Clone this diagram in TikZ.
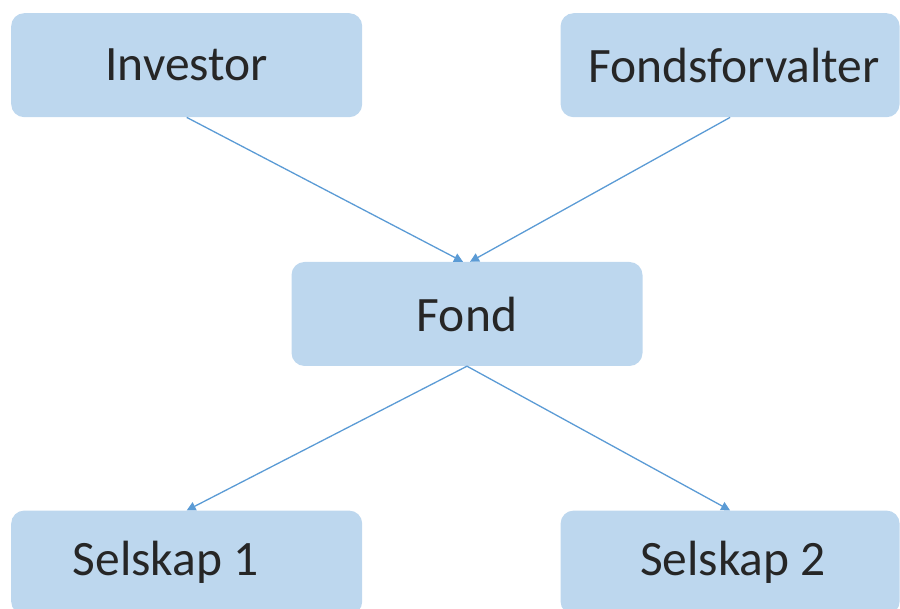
\documentclass[tikz,border=0pt]{standalone}
\usepackage{fontspec}
\setmainfont{Carlito}
\usetikzlibrary{positioning, arrows.meta}
\usepackage{xcolor}
\definecolor{boxblue}{HTML}{BDD7EE}
\definecolor{linkblue}{HTML}{5B9BD5}
\definecolor{textgrey}{HTML}{262626}

\begin{document}
\begin{tikzpicture}[x=1pt, y=1pt,
        b/.style={fill=boxblue, rounded corners=13pt, text=textgrey, font=\fontsize{49.5}{58}\selectfont, minimum width=351pt, minimum height=104pt, inner sep=0pt},
        l/.style={-{Triangle[length=9pt,width=9pt]}, line width=1.3pt, color=linkblue}]
      \useasboundingbox (0,0) rectangle (900,609);
      \node[b, anchor=north west] (inv) at (11,596) {Investor};
      \node[b, right=198pt of inv, minimum width=339pt] (ff) {\hspace*{8pt}Fondsforvalter};
      \node[b] (f) at (467,295) {Fond};
      \node[b, below=393pt of inv] (s1) {Selskap 1\hspace*{42pt}};
      \node[b, below=393pt of ff, minimum width=339pt] (s2) {\hspace*{6pt}Selskap 2};
      \draw[l] (inv.south)--([xshift=-4pt]f.north);
      \draw[l] (ff.south)--([xshift=3pt]f.north);
      \draw[l] (f.south)--(s1.north);
      \draw[l] (f.south)--(s2.north);
    \end{tikzpicture}
\end{document}
